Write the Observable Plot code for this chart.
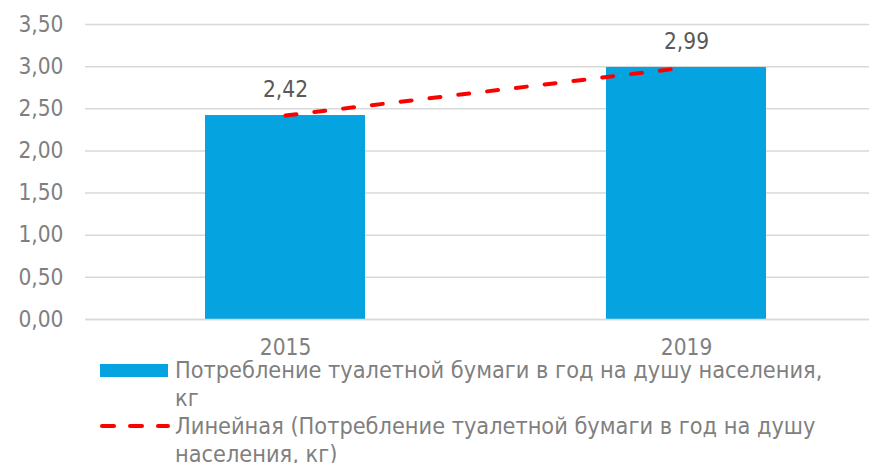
<!DOCTYPE html>
<html><head><meta charset="utf-8">
<script src="https://cdn.jsdelivr.net/npm/d3@7"></script>
<script src="https://cdn.jsdelivr.net/npm/@observablehq/plot@0.6"></script>
<style>
body{margin:0;background:#fff;font-family:"DejaVu Sans Condensed","DejaVu Sans",sans-serif;}
#chart{width:869px;height:463px;overflow:hidden;position:relative;}
.legend{padding-left:100px;font-size:23.3px;line-height:28px;color:#7f7f7f;}
.item{display:flex;align-items:flex-start;}
.sw{width:75px;flex:none;height:28px;display:flex;align-items:center;}
.sw svg{display:block;}
.txt{white-space:nowrap;}
</style></head><body><div id="chart"></div>
<script>
const years = ["2015", "2019"];
const values = [2.42, 2.99];
const yTicks = [0, 0.5, 1, 1.5, 2, 2.5, 3, 3.5];
const seriesLabelLines = ["Потребление туалетной бумаги в год на душу населения,", "кг"];
const trendLabelLines = ["Линейная (Потребление туалетной бумаги в год на душу", "населения, кг)"];

const data = years.map((y, i) => ({year: y, value: values[i]}));
const fmt = v => d3.format(".2f")(v).replace(".", ",");
const font = '"DejaVu Sans Condensed","DejaVu Sans",sans-serif';

const plot = Plot.plot({
  width: 869, height: 356,
  marginLeft: 85, marginRight: -18, marginTop: 24, marginBottom: 37,
  style: {fontFamily: font, fontSize: "22.5px", color: "#7f7f7f", background: "white", overflow: "visible"},
  x: {domain: years, paddingInner: 0.6, paddingOuter: 0.3, label: null, tickSize: 0, tickPadding: 20},
  y: {domain: [0, 3.5], ticks: yTicks, tickFormat: fmt, label: null, tickSize: 0, tickPadding: 22},
  marks: [
    Plot.gridY(yTicks, {stroke: "#d9d9d9", strokeOpacity: 1, strokeWidth: 1.5}),
    Plot.barY(data, {x: "year", y: "value", fill: "#05a3e0"}),
    Plot.ruleY([0], {stroke: "#d9d9d9", strokeWidth: 1.5}),
    Plot.line(data, {x: "year", y: "value", stroke: "#ff0000", strokeWidth: 4, strokeDasharray: "11,18", strokeLinecap: "round"}),
    Plot.text(data, {x: "year", y: "value", text: d => fmt(d.value), dy: -26, fill: "#595959", fontSize: 22.5})
  ]
});
const chart = document.getElementById("chart");
chart.appendChild(plot);

const legend = document.createElement("div");
legend.className = "legend";
function addItem(swatchSvg, lines) {
  const it = document.createElement("div");
  it.className = "item";
  it.innerHTML = `<div class="sw">${swatchSvg}</div><div class="txt">${lines.join("<br>")}</div>`;
  legend.appendChild(it);
}
addItem('<svg width="68" height="13"><rect x="0" y="0" width="68" height="13" fill="#05a3e0"/></svg>', seriesLabelLines);
addItem('<svg width="70" height="6"><line x1="2" y1="3" x2="68" y2="3" stroke="#ff0000" stroke-width="4" stroke-dasharray="12,16" stroke-linecap="round"/></svg>', trendLabelLines);
chart.appendChild(legend);
</script></body></html>
